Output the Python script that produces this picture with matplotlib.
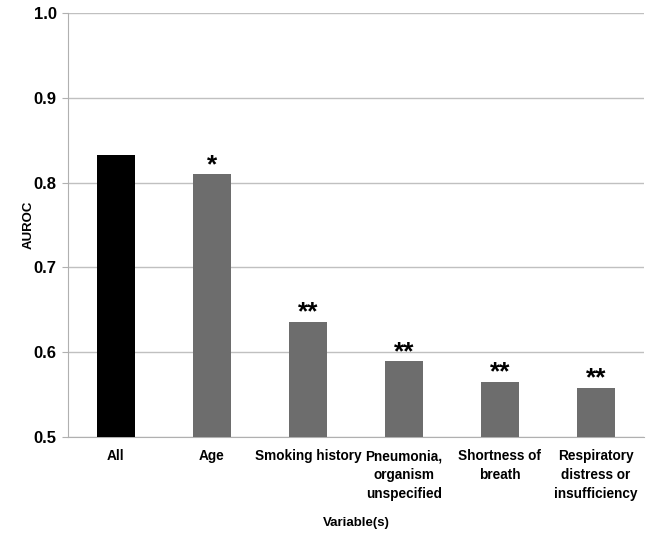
import matplotlib
matplotlib.use("Agg")
import matplotlib.pyplot as plt

categories = ["All", "Age", "Smoking history", "Pneumonia,\norganism\nunspecified",
              "Shortness of\nbreath", "Respiratory\ndistress or\ninsufficiency"]
values = [0.833, 0.810, 0.636, 0.589, 0.565, 0.558]
marks = ["", "*", "**", "**", "**", "**"]
colors = ["#000000", "#6d6d6d", "#6d6d6d", "#6d6d6d", "#6d6d6d", "#6d6d6d"]
yticks = [0.5, 0.6, 0.7, 0.8, 0.9, 1.0]

fig = plt.figure(figsize=(6.53, 5.39), dpi=100)
ax = fig.add_axes([0.104, 0.19, 0.882, 0.785])
x = list(range(len(categories)))
ax.bar(x, values, width=0.4, color=colors, zorder=3)
for xi, v, m in zip(x, values, marks):
    if m:
        ax.annotate(m, xy=(xi, v), xytext=(0, 2), textcoords="offset pixels",
                    ha="center", va="baseline", fontsize=19, fontweight="bold",
                    family="Liberation Sans", zorder=4)
ax.set_ylim(0.5, 1.0)
ax.set_xlim(-0.5, 5.5)
ax.set_yticks(yticks)
ax.set_yticklabels([f"{t:.1f}" for t in yticks], fontsize=12, fontweight="bold",
                   family="Liberation Sans")
ax.set_xticks(x)
ax.set_xticklabels(categories, fontsize=9.8, fontweight="bold", family="Liberation Sans",
                   linespacing=1.45, va="top")
ax.tick_params(axis="x", length=0, pad=9)
ax.tick_params(axis="y", length=4, color="#b0b0b0", pad=4)
ax.grid(axis="y", color="#c0c0c0", linewidth=1, zorder=0)
for s in ["top", "right"]:
    ax.spines[s].set_visible(False)
ax.spines["left"].set_color("#b0b0b0")
ax.spines["bottom"].set_color("#b0b0b0")
ax.set_ylabel("AUROC", fontsize=9.5, fontweight="bold", family="Liberation Sans")
ax.yaxis.set_label_coords(-0.058, 0.5)
ax.set_xlabel("Variable(s)", fontsize=9.5, fontweight="bold", family="Liberation Sans")
ax.xaxis.set_label_coords(0.5, -0.19)
fig.savefig("out.png", dpi=100)
